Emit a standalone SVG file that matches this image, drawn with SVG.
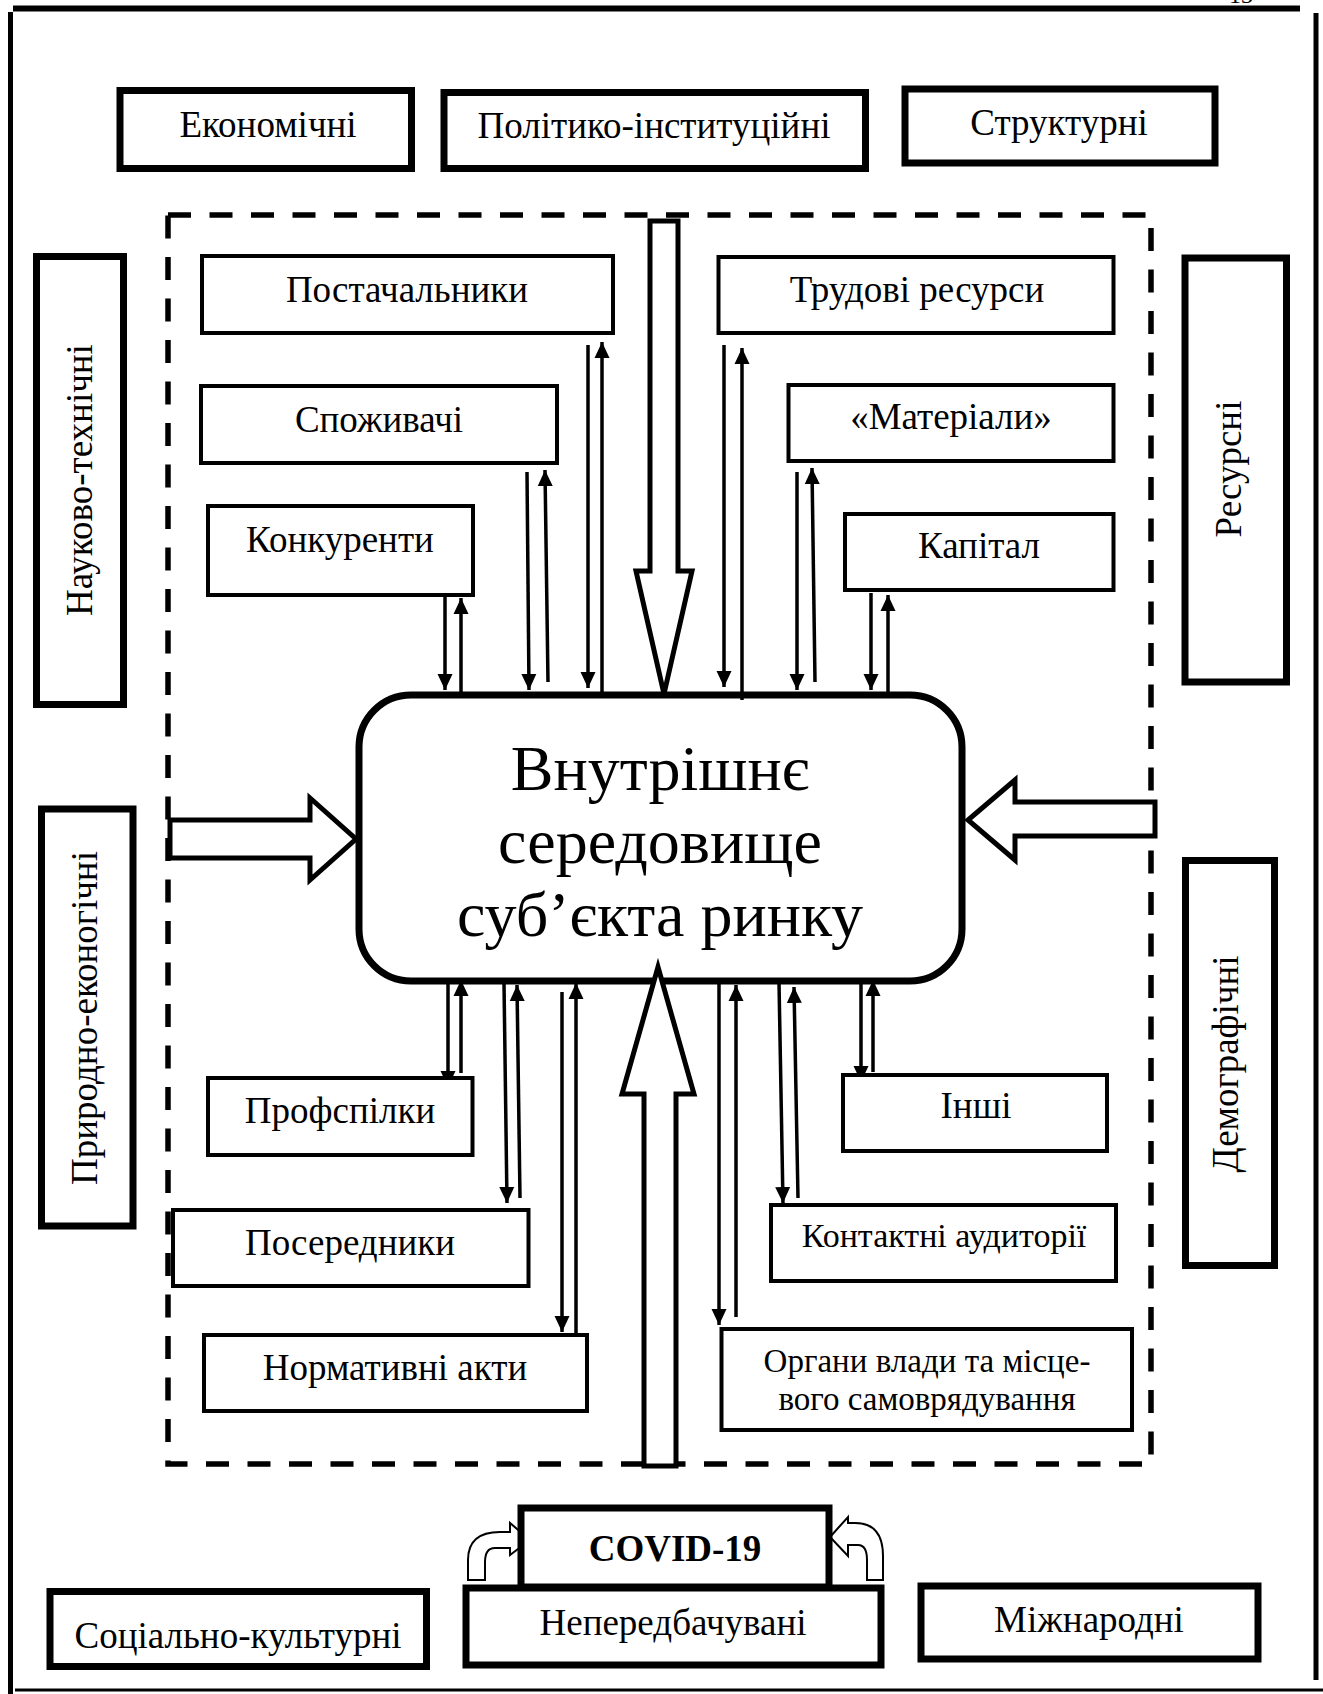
<svg xmlns="http://www.w3.org/2000/svg" width="1323" height="1694" viewBox="0 0 1323 1694">
<defs>
<style>
.t{font-family:"Liberation Serif","Times New Roman",serif;font-size:37px;text-anchor:middle;fill:#000}
.box{fill:#fff;stroke:#000;stroke-width:4}
.obox{fill:#fff;stroke:#000;stroke-width:7}
.big{fill:#fff;stroke:#000;stroke-width:5;stroke-linejoin:miter}
.conn line{stroke:#000;stroke-width:3.5;marker-end:url(#ah)}
.frame{stroke:#000;fill:none}
</style>
<marker id="ah" markerUnits="userSpaceOnUse" markerWidth="16" markerHeight="16" viewBox="0 0 16 16" refX="16" refY="8" orient="auto">
<path d="M0,0.5 L16,8 L0,15.5 z" fill="#000"/>
</marker>
</defs>
<rect width="1323" height="1694" fill="#fff"/>
<g id="frame">
<line class="frame" x1="13" y1="8.5" x2="1300" y2="8.5" stroke-width="6"/>
<line class="frame" x1="10.5" y1="12" x2="10.5" y2="1694" stroke-width="5"/>
<line class="frame" x1="1316" y1="13" x2="1316" y2="1680" stroke-width="5"/>
<line class="frame" x1="15" y1="1690" x2="1323" y2="1690" stroke-width="3" stroke="#333"/>
<text x="1241" y="3" style="font-family:'Liberation Serif',serif;font-size:24px;text-anchor:middle">13</text>
</g>
<g id="environment">
<rect x="168" y="215" width="983" height="1249" fill="none" stroke="#000" stroke-width="5.5" stroke-dasharray="23 18.5"/>
</g>
<g id="center">
<rect x="359" y="695" width="603" height="286" rx="52" ry="52" fill="#fff" stroke="#000" stroke-width="7"/>
<text class="t" style="font-size:64px" x="660" y="790">Внутрішнє</text>
<text class="t" style="font-size:64px" x="660" y="863">середовище</text>
<text class="t" style="font-size:64px" x="660" y="936">суб’єкта ринку</text>
</g>
<g id="connectors">
<polygon class="big" points="650,221 678,221 678,571 692,571 664,694 636,571 650,571"/>
<polygon class="big" points="644,1466 644,1094 622,1094 658,967 694,1094 676,1094 676,1466"/>
<polygon class="big" points="170,820 310,820 310,798 356,839 310,880 310,858 170,858"/>
<polygon class="big" points="1155,802 1015,802 1015,780 968,820 1015,860 1015,836 1155,836"/>
<g class="conn">
<line x1="588" y1="345" x2="588" y2="688"/>
<line x1="602" y1="692" x2="602" y2="342"/>
<line x1="527" y1="472" x2="529" y2="690"/>
<line x1="548" y1="682" x2="545" y2="470"/>
<line x1="445" y1="592" x2="445" y2="690"/>
<line x1="461" y1="692" x2="461" y2="598"/>
<line x1="724" y1="345" x2="724" y2="687"/>
<line x1="742" y1="700" x2="742" y2="348"/>
<line x1="797" y1="472" x2="797" y2="690"/>
<line x1="815" y1="682" x2="812" y2="468"/>
<line x1="871" y1="593" x2="871" y2="690"/>
<line x1="888" y1="698" x2="888" y2="595"/>
<line x1="448" y1="983" x2="448" y2="1087"/>
<line x1="461" y1="1073" x2="461" y2="980"/>
<line x1="504" y1="983" x2="507" y2="1203"/>
<line x1="520" y1="1198" x2="517" y2="985"/>
<line x1="562" y1="992" x2="562" y2="1332"/>
<line x1="576" y1="1333" x2="576" y2="983"/>
<line x1="719" y1="982" x2="719" y2="1325"/>
<line x1="736" y1="1317" x2="736" y2="985"/>
<line x1="779" y1="982" x2="783" y2="1203"/>
<line x1="798" y1="1198" x2="794" y2="987"/>
<line x1="861" y1="982" x2="861" y2="1082"/>
<line x1="873" y1="1072" x2="873" y2="980"/>
</g>
<path d="M468,1580 L468,1560 Q468,1532 500,1532 L510,1532 L510,1523 L530,1540 L510,1555 L510,1548 L495,1548 Q485,1548 485,1562 L485,1580 Z" fill="#fff" stroke="#000" stroke-width="2"/>
<path d="M883,1580 L883,1556 Q883,1523 855,1523 L848,1523 L848,1517 L830,1537 L848,1556 L848,1545 L858,1545 Q867,1545 867,1560 L867,1580 Z" fill="#fff" stroke="#000" stroke-width="2"/>
</g>
<g id="n-ekonomichni"><rect class="obox" x="120" y="90.5" width="291.5" height="78"/><text class="t" x="268" y="137">Економічні</text></g>
<g id="n-polityko"><rect class="obox" x="444" y="92.5" width="421.5" height="76"/><text class="t" x="654" y="138">Політико-інституційні</text></g>
<g id="n-strukturni"><rect class="obox" x="905" y="89" width="310" height="74"/><text class="t" x="1059" y="135">Структурні</text></g>
<g id="n-naukovo"><rect class="obox" x="36.5" y="256.5" width="87" height="448"/><text class="t" transform="translate(92,480) rotate(-90)">Науково-технічні</text></g>
<g id="n-pryrodno"><rect class="obox" x="41.5" y="809" width="91.5" height="417"/><text class="t" transform="translate(97,1018) rotate(-90)">Природно-еконогічні</text></g>
<g id="n-resursni"><rect class="obox" x="1185" y="258" width="101.5" height="424"/><text class="t" transform="translate(1241,469) rotate(-90)">Ресурсні</text></g>
<g id="n-demohrafichni"><rect class="obox" x="1185.5" y="860.5" width="89" height="405"/><text class="t" transform="translate(1238,1064) rotate(-90)">Демографічні</text></g>
<g id="n-postachalnyky"><rect class="box" x="202" y="256" width="411" height="77"/><text class="t" x="407" y="302">Постачальники</text></g>
<g id="n-spozhyvachi"><rect class="box" x="201" y="386" width="356" height="77"/><text class="t" x="379" y="432">Споживачі</text></g>
<g id="n-konkurenty"><rect class="box" x="208" y="506" width="265" height="89"/><text class="t" x="340" y="552">Конкуренти</text></g>
<g id="n-trudovi"><rect class="box" x="718.5" y="257" width="395" height="76"/><text class="t" x="917" y="302">Трудові ресурси</text></g>
<g id="n-materialy"><rect class="box" x="788.5" y="385" width="325" height="76"/><text class="t" x="951" y="429">«Матеріали»</text></g>
<g id="n-kapital"><rect class="box" x="845" y="514" width="268.5" height="76"/><text class="t" x="979" y="558">Капітал</text></g>
<g id="n-profspilky"><rect class="box" x="208" y="1078" width="264.5" height="77"/><text class="t" x="340" y="1123">Профспілки</text></g>
<g id="n-poserednyky"><rect class="box" x="173" y="1210" width="355.5" height="76"/><text class="t" x="350" y="1255">Посередники</text></g>
<g id="n-normatyvni"><rect class="box" x="204" y="1335" width="383" height="76"/><text class="t" x="395" y="1380">Нормативні акти</text></g>
<g id="n-inshi"><rect class="box" x="843" y="1075" width="264" height="76"/><text class="t" x="976" y="1118">Інші</text></g>
<g id="n-kontaktni"><rect class="box" x="771" y="1205" width="345" height="76"/><text class="t" style="font-size:34px" x="944" y="1247">Контактні аудиторії</text></g>
<g id="n-orhany"><rect class="box" x="721.5" y="1329" width="410.5" height="101"/><text class="t" style="font-size:33px" x="927" y="1372">Органи влади та місце-</text><text class="t" style="font-size:33px" x="927" y="1410">вого самоврядування</text></g>
<g id="n-sotsialno"><rect class="obox" x="50" y="1591.5" width="376.5" height="75"/><text class="t" x="238" y="1648">Соціально-культурні</text></g>
<g id="n-covid"><rect class="obox" x="521" y="1508" width="308" height="79" stroke-width="6"/><text class="t" style="font-weight:bold" x="675" y="1561">COVID-19</text></g>
<g id="n-neperedbachuvani"><rect class="obox" x="466" y="1588" width="415" height="77"/><text class="t" x="673" y="1635">Непередбачувані</text></g>
<g id="n-mizhnarodni"><rect class="obox" x="921" y="1586" width="337" height="73"/><text class="t" x="1089" y="1632">Міжнародні</text></g>
</svg>
